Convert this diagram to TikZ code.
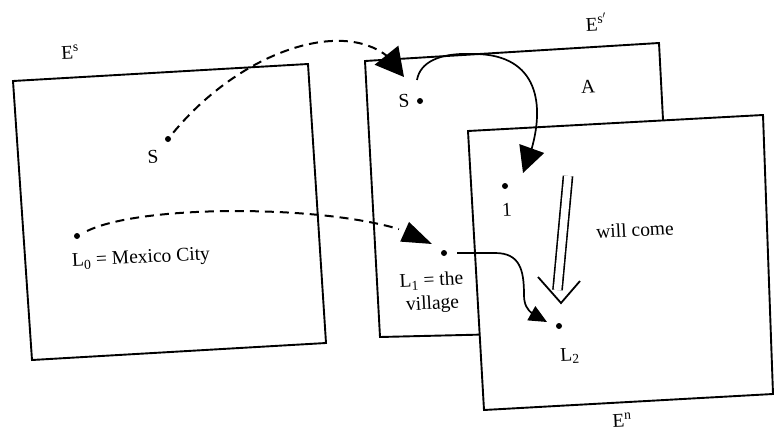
\documentclass[tikz,border=0pt]{standalone}
\usepackage{fontspec}
\setmainfont{Liberation Serif}
\usetikzlibrary{arrows.meta,bending,calc}
\begin{document}
\begin{tikzpicture}[x=1pt,y=-1pt,
  frame/.style={line width=1.9pt, line join=miter},
  dashcurve/.style={line width=2pt, dash pattern=on 9pt off 6pt},
  solidcurve/.style={line width=1.7pt},
  dotmark/.style={circle, fill=black, inner sep=0pt, minimum size=6pt},
  lbl/.style={font=\fontsize{19.5}{23}\selectfont, inner sep=0.5pt, rotate=3},
]
\useasboundingbox (0,0) rectangle (774,431);

% frames
\draw[frame] (13,81) -- (308,64) -- (326,343) -- (32,360) -- cycle;
\draw[frame] (365,61) -- (659,43) -- (674,330) -- (380,337) -- cycle;
\draw[frame, fill=white] (468,131) -- (763,115) -- (773,394) -- (484,410) -- cycle;

% frame labels
\node[lbl] (es) at (70,52) {E\textsuperscript{s}};
\node[lbl] (esp) at (596,22) {E\textsuperscript{s$'$}};
\node[lbl] (en) at (622,420) {E\textsuperscript{n}};

% dots
\node[dotmark] (sA) at (168,139) {};
\node[dotmark] (lzero) at (77,236) {};
\node[dotmark] (sB) at (420,101) {};
\node[dotmark] (one) at (505,186) {};
\node[dotmark] (lone) at (444,253) {};
\node[dotmark] (ltwo) at (559,326) {};

% texts
\node[lbl] (sAl) at (153,157) {S};
\node[lbl] (lzerol) at (141,259) {L\textsubscript{0} = Mexico City};
\node[lbl] (sBl) at (404,101) {S};
\node[lbl] (al) at (588,87) {A};
\node[lbl] (onel) at (507,210) {1};
\node[lbl] (wc) at (635,230) {will come};
\node[lbl, align=center] (lonel) at (432,293) {L\textsubscript{1} = the\\village};
\node[lbl] (ltwol) at (570,356) {L\textsubscript{2}};

% arrow end points
\coordinate (tipS) at (404,77);
\coordinate (tipL) at (432,244);
\coordinate (tipOne) at (523,173);
\coordinate (tipLtwo) at (547,322);
\coordinate (startOne) at ($(sB)+(-3,-21)$);

% connectors
\draw[dashcurve, -{Triangle[length=28pt,width=30pt]}, shorten <=5pt]
  (sA) .. controls (250,40) and (370,10) .. (tipS);
\draw[dashcurve, -{Triangle[length=30pt,width=21pt]}, shorten <=8pt]
  (lzero) .. controls (150,200) and (380,205) .. (tipL);
\draw[solidcurve, -{Triangle[length=26pt,width=26pt]}]
  (startOne) .. controls (420,62) and (440,53) .. (470,54)
  .. controls (545,52) and (548,115) .. (tipOne);
\draw[solidcurve, -{Triangle[length=18pt,width=16pt]}, shorten <=10pt]
  (lone) -- (495,253) .. controls (520,253) and (524,270) .. (524,295)
  .. controls (524,310) and (532,315) .. (tipLtwo);

% double arrow
\draw[line width=1.6pt, double, double distance=7.5pt] (568,176) -- (557.5,290);
\draw[line width=1.8pt, line join=miter] (538,277) -- (561,303) -- (580,281);
\end{tikzpicture}
\end{document}
